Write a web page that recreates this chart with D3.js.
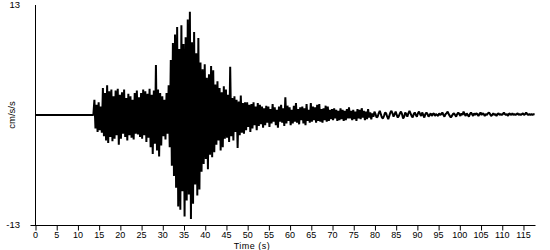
<!DOCTYPE html>
<html>
<head>
<meta charset="utf-8">
<script src="https://cdn.jsdelivr.net/npm/d3@7"></script>
<style>
  html, body { margin: 0; padding: 0; background: #fff; }
  svg { display: block; }
  text { font-family: Arial, "Liberation Sans", sans-serif; fill: #000; }
</style>
</head>
<body>
<svg id="chart" width="550" height="250"></svg>
<script>
// ---- data ----
const xTicks = [0,5,10,15,20,25,30,35,40,45,50,55,60,65,70,75,80,85,90,95,100,105,110,115];
const yTickLabels = ["-13", "13"];
const xLabel = "Time (s)";
const yLabel = "cm/s/s";
// quiet pre-event segment (time, value)
const quietTimes = [0, 13.75];
const quietValues = [0, 0];
// sampled acceleration trace starting at 13.75 s, every 0.25 s
const sampleStart = 13.75;
const sampleStep = 0.25;
const accel = [
  0,
  1.8,-1.6,1.2,-2.0,   1.5,-1.8,1.0,-2.1,   3.2,-2.5,2.6,-3.0,   3.5,-3.3,2.8,-2.6,
  3.0,-3.1,2.2,-2.8,   2.9,-2.4,3.1,-3.5,   2.4,-2.8,2.7,-2.2,   3.0,-2.6,2.0,-3.0,
  2.5,-2.4,2.2,-2.7,   1.8,-2.9,2.6,-2.2,   2.9,-2.3,2.1,-2.6,   2.6,-2.8,3.0,-2.4,
  2.8,-3.2,2.5,-2.7,   3.1,-3.8,2.4,-4.6,   2.9,-3.4,5.9,-4.2,   3.0,-4.9,2.6,-3.6,
  2.2,-2.5,1.8,-2.9,   2.6,-2.2,3.5,-3.8,   6.5,-6.0,8.5,-7.2,   9.5,-8.6,10.4,-10.8,
  7.8,-11.2,10.6,-9.0, 8.4,-12.0,9.2,-10.1, 11.3,-9.4,12.2,-12.3, 8.6,-10.5,9.8,-8.2,
  7.3,-9.5,9.1,-8.8,   6.2,-6.7,5.4,-5.8,   6.0,-5.2,4.4,-6.4,   4.8,-4.7,5.8,-5.0,
  5.3,-4.4,3.6,-3.5,   4.0,-3.0,3.2,-4.2,   2.7,-3.8,3.4,-2.8,   3.0,-2.7,2.4,-3.2,
  5.7,-2.5,2.0,-3.0,   2.2,-2.0,1.8,-3.9,   1.6,-2.4,2.3,-2.1,   1.4,-2.2,1.5,-1.8,
  1.5,-1.4,1.2,-2.0,   1.3,-1.6,1.5,-1.2,   1.0,-1.8,1.4,-1.3,   1.2,-1.1,1.0,-1.5,
  0.8,-1.2,1.1,-0.9,   1.0,-1.4,0.7,-1.0,   1.3,-0.8,0.9,-1.2,   0.6,-1.5,1.0,-0.8,
  1.2,-0.9,0.8,-1.3,   2.1,-1.0,1.1,-0.7,   0.9,-1.2,0.6,-1.0,   1.1,-0.8,1.4,-0.9,
  0.7,-1.1,0.9,-0.6,   1.0,-1.0,0.8,-1.2,   1.3,-0.7,0.6,-0.9,   1.4,-0.8,1.0,-0.6,
  0.9,-0.9,1.2,-0.7,   1.3,-0.8,0.7,-0.9,   0.8,-0.6,1.1,-0.8,   1.0,-0.7,0.6,-0.5,
  0.7,-0.6,0.8,-0.4,   0.6,-0.7,0.5,-0.6,   0.8,-0.5,0.6,-0.7,   0.5,-0.6,0.7,-0.4,
  0.9,-0.4,0.5,-0.6,   0.6,-0.5,0.4,-0.7,   0.7,-0.4,0.6,-0.5,   0.8,-0.3,0.5,-0.6,
  0.4,-0.5,0.7,-0.3,   0.3,-0.5,0.2,-0.2,
  0.4,0.1,-0.3,-0.2,   0.2,0.5,0.1,-0.3,    -0.4,-0.1,0.3,0.2,   -0.2,-0.5,-0.1,0.3,
  0.5,0.2,-0.2,0.1,    0.4,0.0,-0.3,-0.1,   0.2,0.4,0.1,-0.4,    -0.2,0.3,0.1,-0.2,
  0.2,0.5,0.2,-0.1,    -0.3,0.1,0.3,0.0,    -0.2,0.2,0.4,0.1,    -0.1,0.3,0.0,-0.3,
  0.1,0.3,0.1,-0.2,    0.0,0.2,-0.1,0.1,    0.2,-0.1,0.1,0.0,    -0.1,0.2,0.0,0.1,
  0.3,0.0,-0.2,0.1,    0.2,0.4,0.1,-0.1,    -0.3,-0.1,0.1,0.2,   0.0,-0.2,0.1,0.3,
  0.1,-0.1,0.2,0.0,    0.4,0.1,-0.1,0.2,    0.0,-0.2,0.1,0.3,    0.1,-0.1,0.2,0.0,
  0.2,0.1,-0.1,0.1,    0.3,0.0,0.2,0.1,     -0.1,0.1,0.0,0.2,    0.3,0.1,-0.1,0.0,
  0.2,0.0,0.1,-0.1,    0.1,0.2,0.0,0.1,     0.0,0.1,0.3,0.1,     0.0,0.1,-0.1,0.2,
  0.1,0.0,0.2,0.0,     0.1,0.0,0.1,0.2,     0.0,0.1,0.0,0.1,     0.2,0.0,0.1,0.3,
  0.1,0.0,0.1,0.0,     0.1,0.0,0.1,0.1
];

// ---- drawing ----
const svg = d3.select("#chart");
const x = d3.scaleLinear().domain([0, 118]).range([35, 535.7]);
const y = d3.scaleLinear().domain([-13, 13]).range([225, 5]);

const pts = quietTimes.map((t, i) => [t, quietValues[i]])
  .concat(accel.map((v, i) => [sampleStart + i * sampleStep, v]));

svg.append("path")
  .datum(pts)
  .attr("fill", "none")
  .attr("stroke", "#000")
  .attr("stroke-width", 2)
  .attr("stroke-linejoin", "bevel")
  .attr("d", d3.line().x(d => x(d[0])).y(d => y(d[1])));

// x axis
const xAxis = d3.axisBottom(x).tickValues(xTicks).tickSize(5).tickSizeOuter(0);
const gx = svg.append("g").attr("transform", `translate(0,${y(-13)})`).call(xAxis);
gx.select(".domain").attr("d", `M30.5,0.5H535.5`);
gx.selectAll(".tick line").attr("stroke", "#000").attr("transform", "translate(0.5,0.5)");
gx.selectAll(".tick text").attr("font-size", "9px").attr("font-family", "Arial, 'Liberation Sans', sans-serif").attr("dy", "0.71em").attr("y", 6.5);

// y axis line
svg.append("line")
  .attr("x1", x(0) + 0.5).attr("x2", x(0) + 0.5)
  .attr("y1", y(13)).attr("y2", y(-13) + 0.5)
  .attr("stroke", "#000");

// y labels
svg.selectAll(".ylab").data(yTickLabels).enter().append("text")
  .attr("class", "ylab")
  .attr("x", 20)
  .attr("y", d => y(+d))
  .attr("dy", "0.35em")
  .attr("text-anchor", "end")
  .attr("font-size", "9.5px")
  .text(d => d);

svg.append("text")
  .attr("transform", `translate(15,${y(0)}) rotate(-90)`)
  .attr("text-anchor", "middle")
  .attr("font-size", "9.5px")
  .text(yLabel);

svg.append("text")
  .attr("x", 252).attr("y", 249)
  .attr("text-anchor", "middle")
  .attr("font-size", "9px")
  .attr("letter-spacing", "0.5px")
  .text(xLabel);
</script>
</body>
</html>
